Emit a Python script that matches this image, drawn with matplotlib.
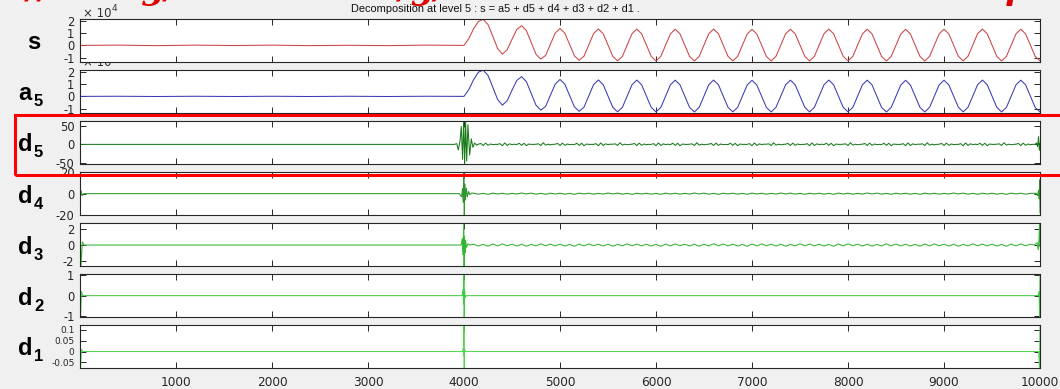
import matplotlib

matplotlib.use("Agg")
import matplotlib.pyplot as plt  # noqa: E402
import numpy as np  # noqa: E402
from matplotlib.patches import Rectangle  # noqa: E402

W, H = 1060, 389
BG = "#f0f0f0"
SPINE = "#262626"
RED = "#e00000"

plt.rcParams.update(
    {
        "font.family": "DejaVu Sans",
        "axes.unicode_minus": False,
        "figure.facecolor": BG,
    }
)

TITLE = "Decomposition at level 5 : s = a5 + d5 + d4 + d3 + d2 + d1 ."
x_ticks = [1000, 2000, 3000, 4000, 5000, 6000, 7000, 8000, 9000, 10000]

# ---- s and a5 (units of 1e4) ----
s_pre_t = [0, 400, 800, 1200, 1600, 2000, 2400, 2800, 3200, 3600, 3950]
s_pre = [0.0, 0.02, -0.02, 0.02, -0.01, 0.02, -0.02, 0.01, -0.02, 0.02, 0.0]
# sampled every 50 from 4000 to 10000
s_post = [
    0.00, 0.55, 1.35, 1.95, 2.12, 1.70, 0.75, -0.25,
    -0.72, -0.35, 0.50, 1.30, 1.60, 1.20, 0.25, -0.72,
    -1.12, -0.82, 0.10, 1.00, 1.38, 1.00, 0.08, -0.85,
    -1.22, -0.88, 0.04, 0.96, 1.34, 0.95, 0.03, -0.89,
    -1.26, -0.89, 0.03, 0.95, 1.33, 0.95, 0.03, -0.89,
    -1.27, -0.90, 0.02, 0.94, 1.32, 0.94, 0.02, -0.90,
    -1.27, -0.89, 0.03, 0.95, 1.33, 0.95, 0.03, -0.89,
    -1.26, -0.90, 0.02, 0.93, 1.31, 0.93, 0.02, -0.90,
    -1.27, -0.89, 0.03, 0.94, 1.32, 0.94, 0.03, -0.89,
    -1.27, -0.89, 0.03, 0.95, 1.33, 0.95, 0.03, -0.89,
    -1.26, -0.90, 0.02, 0.94, 1.32, 0.94, 0.02, -0.90,
    -1.27, -0.90, 0.02, 0.93, 1.31, 0.93, 0.02, -0.90,
    -1.27, -0.89, 0.03, 0.94, 1.32, 0.94, 0.03, -0.89,
    -1.26, -0.89, 0.03, 0.95, 1.33, 0.95, 0.03, -0.89,
    -1.27, -0.90, 0.02, 0.94, 1.32, 0.94, 0.02, -0.90,
    -1.27,
]
a5_pre_t = [0, 400, 800, 1200, 1600, 2000, 2400, 2800, 3200, 3600, 3950]
a5_pre = [0.0, 0.01, -0.01, 0.01, -0.01, 0.01, -0.01, 0.01, -0.01, 0.01, 0.0]
a5_post = [
    0.00, 0.55, 1.36, 1.97, 2.14, 1.71, 0.75, -0.25,
    -0.72, -0.35, 0.50, 1.30, 1.61, 1.20, 0.25, -0.72,
    -1.12, -0.82, 0.10, 1.00, 1.38, 1.00, 0.08, -0.85,
    -1.22, -0.88, 0.04, 0.96, 1.34, 0.95, 0.03, -0.89,
    -1.26, -0.89, 0.03, 0.95, 1.33, 0.95, 0.03, -0.89,
    -1.27, -0.90, 0.02, 0.94, 1.32, 0.94, 0.02, -0.90,
    -1.27, -0.89, 0.03, 0.95, 1.33, 0.95, 0.03, -0.89,
    -1.26, -0.90, 0.02, 0.93, 1.31, 0.93, 0.02, -0.90,
    -1.27, -0.89, 0.03, 0.94, 1.32, 0.94, 0.03, -0.89,
    -1.27, -0.89, 0.03, 0.95, 1.33, 0.95, 0.03, -0.89,
    -1.26, -0.90, 0.02, 0.94, 1.32, 0.94, 0.02, -0.90,
    -1.27, -0.90, 0.02, 0.93, 1.31, 0.93, 0.02, -0.90,
    -1.27, -0.89, 0.03, 0.94, 1.32, 0.94, 0.03, -0.89,
    -1.26, -0.89, 0.03, 0.95, 1.33, 0.95, 0.03, -0.89,
    -1.27, -0.90, 0.02, 0.94, 1.32, 0.94, 0.02, -0.90,
    -1.27,
]

# ---- d5 ----
d5_ev_t = [0, 3900, 3925, 3940, 3958, 3972, 3985, 3996, 4007, 4017, 4028, 4041, 4059, 4076, 4093, 4111, 4130]
d5_ev = [0, 0, 2, -15, 8, 48, -40, 63, -52, 60, -45, 53, -29, 15, -8, 4, -2]
# ripple sampled every 25 from 4150 to 9925
d5_rip = [
    0.5, 2.5, -3.0, 3.5, -2.5, 1.0, -0.5, 0.0,
    0.0, 2.0, -3.5, 4.0, -3.0, 1.5, -0.5, 0.5,
    -0.5, 3.0, -2.5, 3.0, -3.5, 1.0, 0.0, 0.0,
    0.5, 1.5, -3.0, 4.5, -2.0, 0.5, -1.0, 0.0,
    0.5, 2.5, -3.0, 3.5, -2.5, 1.0, -0.5, 0.0,
    -0.5, 3.0, -2.5, 3.0, -3.5, 1.0, 0.0, 0.0,
    0.0, 2.0, -3.5, 4.0, -3.0, 1.5, -0.5, 0.5,
    0.5, 1.5, -3.0, 4.5, -2.0, 0.5, -1.0, 0.0,
    0.5, 2.5, -3.0, 3.5, -2.5, 1.0, -0.5, 0.0,
    0.0, 2.0, -3.5, 4.0, -3.0, 1.5, -0.5, 0.5,
    -0.5, 3.0, -2.5, 3.0, -3.5, 1.0, 0.0, 0.0,
    0.5, 1.5, -3.0, 4.5, -2.0, 0.5, -1.0, 0.0,
    0.5, 2.5, -3.0, 3.5, -2.5, 1.0, -0.5, 0.0,
    -0.5, 3.0, -2.5, 3.0, -3.5, 1.0, 0.0, 0.0,
    0.0, 2.0, -3.5, 4.0, -3.0, 1.5, -0.5, 0.5,
    0.5, 1.5, -3.0, 4.5, -2.0, 0.5, -1.0, 0.0,
    0.5, 2.5, -3.0, 3.5, -2.5, 1.0, -0.5, 0.0,
    0.0, 2.0, -3.5, 4.0, -3.0, 1.5, -0.5, 0.5,
    -0.5, 3.0, -2.5, 3.0, -3.5, 1.0, 0.0, 0.0,
    0.5, 1.5, -3.0, 4.5, -2.0, 0.5, -1.0, 0.0,
    0.5, 2.5, -3.0, 3.5, -2.5, 1.0, -0.5, 0.0,
    -0.5, 3.0, -2.5, 3.0, -3.5, 1.0, 0.0, 0.0,
    0.0, 2.0, -3.5, 4.0, -3.0, 1.5, -0.5, 0.5,
    0.5, 1.5, -3.0, 4.5, -2.0, 0.5, -1.0, 0.0,
    0.5, 2.5, -3.0, 3.5, -2.5, 1.0, -0.5, 0.0,
    0.0, 2.0, -3.5, 4.0, -3.0, 1.5, -0.5, 0.5,
    -0.5, 3.0, -2.5, 3.0, -3.5, 1.0, 0.0, 0.0,
    0.5, 1.5, -3.0, 4.5, -2.0, 0.5, -1.0, 0.0,
    0.5, 2.5, -3.0, 3.5, -2.5, 1.0, -0.5, 0.0,
]
d5_end_t = [9950, 9965, 9975, 9985, 9993, 10000]
d5_end = [0.5, 4, -6, 21, -16, 3]

# ---- d4 ----
d4_ev_t = [0, 12, 25, 40, 3950, 3975, 3985, 3993, 3998, 4003, 4008, 4015, 4025, 4035, 4048, 4062, 4080]
d4_ev = [0, 2.5, -2, 0, 0, -3, 5, -8, 20, -20, 9, -6, 5, -3, 2, -1, 0.5]
# ripple sampled every 50 from 4100 to 9900
d4_rip = [
    0.4, -0.5, 0.3, -0.6, 0.5, -0.3, 0.4, -0.5, 0.3,
    -0.4, 0.6, -0.3, 0.5, -0.5, 0.3, -0.6, 0.4, -0.3,
    0.4, -0.5, 0.3, -0.6, 0.5, -0.3, 0.4, -0.5, 0.3,
    -0.4, 0.6, -0.3, 0.5, -0.5, 0.3, -0.6, 0.4, -0.3,
    0.4, -0.5, 0.3, -0.6, 0.5, -0.3, 0.4, -0.5, 0.3,
    -0.4, 0.6, -0.3, 0.5, -0.5, 0.3, -0.6, 0.4, -0.3,
    0.4, -0.5, 0.3, -0.6, 0.5, -0.3, 0.4, -0.5, 0.3,
    -0.4, 0.6, -0.3, 0.5, -0.5, 0.3, -0.6, 0.4, -0.3,
    0.4, -0.5, 0.3, -0.6, 0.5, -0.3, 0.4, -0.5, 0.3,
    -0.4, 0.6, -0.3, 0.5, -0.5, 0.3, -0.6, 0.4, -0.3,
    0.4, -0.5, 0.3, -0.6, 0.5, -0.3, 0.4, -0.5, 0.3,
    -0.4, 0.6, -0.3, 0.5, -0.5, 0.3, -0.6, 0.4, -0.3,
    0.4, -0.5, 0.3, -0.6, 0.5, -0.3, 0.4, -0.5, 0.3,
]
d4_end_t = [9940, 9960, 9975, 9985, 9992, 9997, 10000]
d4_end = [0.3, 0.5, -2, 3, -5, 13, -18]

# ---- d3 ----
d3_ev_t = [0, 10, 25, 40, 3970, 3982, 3988, 3993, 3998, 4001, 4005, 4010, 4016, 4025, 4040, 4060]
d3_ev = [2.7, -2.6, 0.4, 0, 0, 0.8, -1.2, 1.0, 2.7, -2.6, 1.1, -1.0, 0.6, -0.3, 0.15, 0]
d3_rip = [
    0.10, -0.12, 0.08, -0.15, 0.12, -0.10, 0.14, -0.08, 0.10,
    -0.12, 0.10, -0.14, 0.08, -0.10, 0.15, -0.09, 0.12, -0.10,
    0.10, -0.12, 0.08, -0.15, 0.12, -0.10, 0.14, -0.08, 0.10,
    -0.12, 0.10, -0.14, 0.08, -0.10, 0.15, -0.09, 0.12, -0.10,
    0.10, -0.12, 0.08, -0.15, 0.12, -0.10, 0.14, -0.08, 0.10,
    -0.12, 0.10, -0.14, 0.08, -0.10, 0.15, -0.09, 0.12, -0.10,
    0.10, -0.12, 0.08, -0.15, 0.12, -0.10, 0.14, -0.08, 0.10,
    -0.12, 0.10, -0.14, 0.08, -0.10, 0.15, -0.09, 0.12, -0.10,
    0.10, -0.12, 0.08, -0.15, 0.12, -0.10, 0.14, -0.08, 0.10,
    -0.12, 0.10, -0.14, 0.08, -0.10, 0.15, -0.09, 0.12, -0.10,
    0.10, -0.12, 0.08, -0.15, 0.12, -0.10, 0.14, -0.08, 0.10,
    -0.12, 0.10, -0.14, 0.08, -0.10, 0.15, -0.09, 0.12, -0.10,
    0.10, -0.12, 0.08, -0.15, 0.12, -0.10, 0.14, -0.08, 0.10,
]
d3_end_t = [9940, 9970, 9982, 9990, 9995, 10000]
d3_end = [0, 0.3, -0.6, 0.8, 2.7, -0.2]

# ---- d2 ----
d2_t = [0, 6, 15, 30, 3980, 3990, 3995, 3999, 4002, 4006, 4012, 4022, 9980, 9990, 9996, 10000]
d2 = [1.03, -1.03, 0.2, 0, 0, 0.3, -0.4, 1.03, -1.03, 0.3, -0.1, 0, 0, 0.2, -1.03, 1.03]

# ---- d1 ----
d1_t = [0, 6, 15, 30, 3985, 3993, 3997, 3999, 4002, 4006, 4015, 9985, 9995, 10000]
d1 = [0.123, -0.075, 0.01, 0, 0, 0.015, -0.02, 0.123, -0.075, 0.01, 0, 0, -0.075, 0.123]


def series(parts_t, parts_v):
    return np.concatenate(parts_t), np.concatenate(parts_v)


s_t, s_v = series([s_pre_t, np.arange(4000, 10001, 50)], [s_pre, s_post])
a5_t, a5_v = series([a5_pre_t, np.arange(4000, 10001, 50)], [a5_pre, a5_post])
d5_t, d5_v = series([d5_ev_t, np.arange(4150, 9926, 25), d5_end_t], [d5_ev, d5_rip, d5_end])
d4_t, d4_v = series([d4_ev_t, np.arange(4100, 9901, 50), d4_end_t], [d4_ev, d4_rip, d4_end])
d3_t, d3_v = series([d3_ev_t, np.arange(4100, 9901, 50), d3_end_t], [d3_ev, d3_rip, d3_end])

panels = [
    ("s", "", s_t, s_v, "#cc4444", (-1.33, 2.15), [-1, 0, 1, 2], ["-1", "0", "1", "2"]),
    ("a", "5", a5_t, a5_v, "#3b3bb5", (-1.33, 2.15), [-1, 0, 1, 2], ["-1", "0", "1", "2"]),
    ("d", "5", d5_t, d5_v, "#1a7a1a", (-52, 63), [-50, 0, 50], ["-50", "0", "50"]),
    ("d", "4", d4_t, d4_v, "#2d962d", (-20, 20), [-20, 0, 20], ["-20", "0", "20"]),
    ("d", "3", d3_t, d3_v, "#33b433", (-2.6, 2.7), [-2, 0, 2], ["-2", "0", "2"]),
    ("d", "2", np.array(d2_t), np.array(d2), "#44c944", (-1.03, 1.03), [-1, 0, 1], ["-1", "0", "1"]),
    ("d", "1", np.array(d1_t), np.array(d1), "#55d455", (-0.075, 0.123),
     [-0.05, 0, 0.05, 0.1], ["-0.05", "0", "0.05", "0.1"]),
]

TOPS = [19, 70, 121, 172.3, 223.3, 274.3, 325]
PH = 42.7
LEFT, RIGHT = 80, 1040

fig = plt.figure(figsize=(W / 100, H / 100), dpi=100)

axes = []
for i, (letter, sub, t, v, color, ylim, yt, ytl) in enumerate(panels):
    top = TOPS[i]
    ax = fig.add_axes([LEFT / W, 1 - (top + PH) / H, (RIGHT - LEFT) / W, PH / H])
    ax.set_zorder(20 - i)
    ax.plot(t, v, color=color, linewidth=0.75)
    ax.set_xlim(0, 10000)
    ax.set_ylim(*ylim)
    ax.set_xticks(x_ticks)
    ax.set_yticks(yt)
    ax.set_yticklabels(ytl, fontsize=6.5 if letter + sub == "d1" else 8.3)
    ax.tick_params(direction="in", length=4, width=0.7, top=True, right=True,
                   colors=SPINE, pad=4)
    ax.tick_params(axis="x", labelsize=8.7, pad=6)
    if i < len(panels) - 1:
        ax.tick_params(labelbottom=False)
    for sp in ax.spines.values():
        sp.set_color(SPINE)
        sp.set_linewidth(0.8)

    mid = top + PH / 2
    lx = 27 if not sub else 18
    fig.text(lx / W, 1 - (mid + 9) / H, letter, fontsize=17, fontweight="bold",
             family="Liberation Sans", va="baseline", ha="left")
    if sub:
        fig.text(34 / W, 1 - (mid + 15) / H, sub, fontsize=12, fontweight="bold",
                 family="Liberation Sans", va="baseline", ha="left")
    axes.append(ax)

# exponent labels
fig.text(83 / W, 1 - 17 / H, "× 10", fontsize=8.5, va="baseline", color="#333333")
fig.text(112 / W, 1 - 11 / H, "4", fontsize=6.5, va="baseline", color="#333333")
ax_a5 = axes[1]
ax_a5.text(3 / (RIGHT - LEFT), 1 + 4 / PH, "× 10", fontsize=8.5, va="baseline",
           color="#333333", transform=ax_a5.transAxes, clip_on=False)

fig.text(495 / W, 1 - 9 / H, TITLE, fontsize=7.9, family="Liberation Sans",
         ha="center", va="center", color="#111111")

# clipped red caption line at the very top (only descenders show)
for x, txt in [(52, "http://"), (178, "www.org/"), (447, "lib/g/"), (1030, "Help")]:
    fig.text(x / W, 1 + 1 / H, txt, fontsize=24, family="DejaVu Serif",
             fontweight="bold", fontstyle="italic", color=RED, ha="right", va="baseline")

# red highlight box around d5
fig.add_artist(Rectangle((15 / W, 1 - 175.3 / H), 1.2, 60.1 / H, transform=fig.transFigure,
                         fill=False, edgecolor="#ff0000", linewidth=2.2, clip_on=False,
                         zorder=50))

fig.savefig("out.png", dpi=100, facecolor=BG)
